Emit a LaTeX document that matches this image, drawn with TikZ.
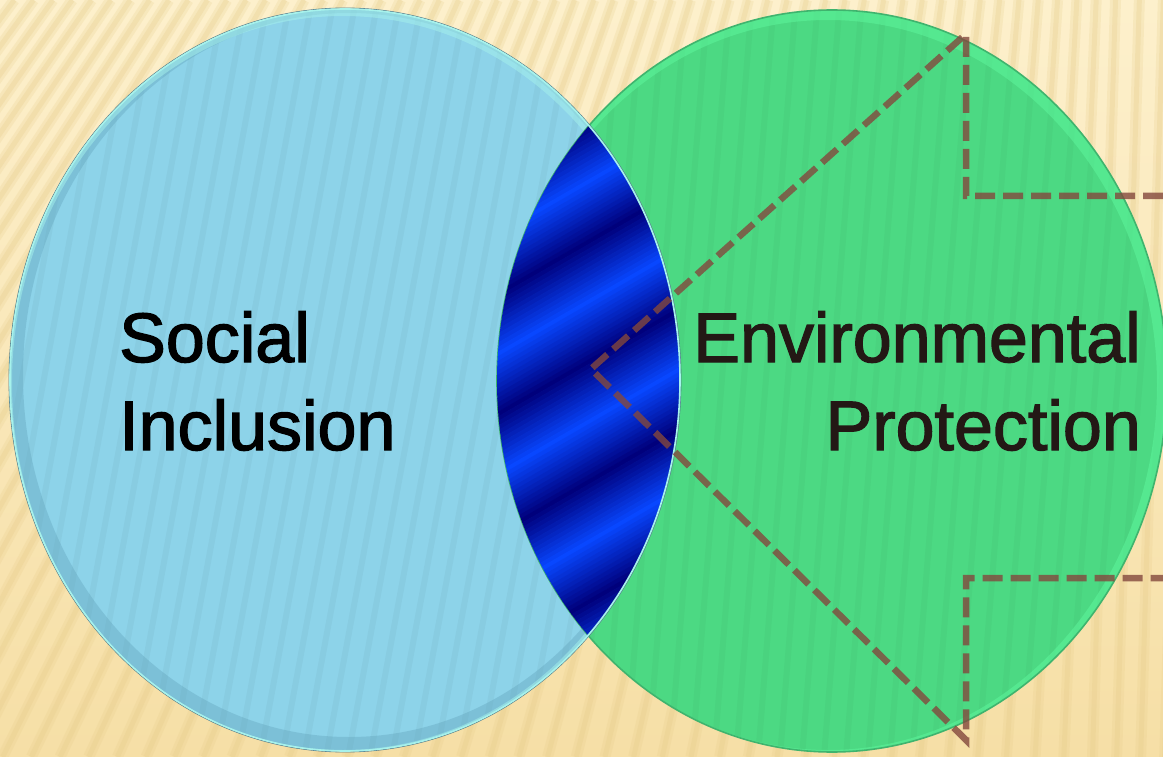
\documentclass[tikz,border=0pt]{standalone}
\usepackage{fontspec}
\setmainfont{Liberation Sans}
\newcommand{\heavytext}[1]{\special{pdf:literal direct 2 Tr 1.3 w}#1\special{pdf:literal direct 0 Tr 1 w}}
\begin{document}
\begin{tikzpicture}[x=1pt,y=-1pt]
\definecolor{bgtop}{HTML}{FDF0CC}
\definecolor{bgbot}{HTML}{F6DFA6}
\definecolor{stripe}{HTML}{E6CC8A}
\definecolor{socialfill}{HTML}{8DD3E9}
\definecolor{socialedge}{HTML}{A6F2EC}
\definecolor{socialshadow}{HTML}{5E9FB8}
\definecolor{envfill}{HTML}{4CD983}
\definecolor{envedge}{HTML}{3FB46E}
\definecolor{envglow}{HTML}{5EF79D}
\definecolor{lensdark}{HTML}{00007C}
\definecolor{lensbright}{HTML}{0847FF}
\definecolor{dashbrown}{HTML}{83483D}
\definecolor{envtext}{HTML}{231815}
\tikzset{
  label text/.style={font=\fontsize{70}{84}\selectfont, inner sep=0pt},
  guide/.style={draw=dashbrown, draw opacity=0.8, line width=6.5pt, dash pattern=on 20pt off 8pt, line join=miter},
  venn/.style={x radius=335, y radius=371},
}
\useasboundingbox (0,0) rectangle (1163,757);
% background
\shade[top color=bgtop, bottom color=bgbot] (0,0) rectangle (1163,757);
\begin{scope}
  \clip (0,0) rectangle (1163,757);
  \foreach \xm in {-264,-240,...,1200} {
    \pgfmathsetmacro{\k}{max(0.03, 0.6*(1-\xm/1163))}
    \draw[stripe, line width=11pt, opacity=0.22] (\xm+\k*378, 0) -- (\xm-\k*378, 757);
    \draw[stripe, line width=5pt, opacity=0.28] (\xm+\k*378, 0) -- (\xm-\k*378, 757);
  }
\end{scope}
% circles
\coordinate (cS) at (345,380);
\coordinate (cE) at (832,381);
\fill[socialfill] (cS) ellipse [venn];
\fill[envfill] (cE) ellipse [venn];
% faint texture and inner edge effects
\begin{scope}
  \clip (cS) ellipse [venn];
  \foreach \xm in {0,22,...,700} {
    \draw[black, line width=6pt, opacity=0.03] (\xm+70, 0) -- (\xm-70, 757);
  }
  \draw[socialshadow, line width=18pt, opacity=0.35] (349,375) ellipse [venn];
  \draw[socialedge, line width=8pt, opacity=0.5] (343,383) ellipse [venn];
\end{scope}
\begin{scope}
  \clip (cE) ellipse [venn];
  \foreach \xm in {480,502,...,1180} {
    \draw[black, line width=6pt, opacity=0.025] (\xm+30, 0) -- (\xm-30, 757);
  }
  \draw[envglow, line width=12pt, opacity=0.5] (828,385) ellipse [venn];
\end{scope}
\draw[envedge, line width=1.6pt] (cE) ellipse [venn];
% lens
\begin{scope}
  \clip (cS) ellipse [venn];
  \clip (cE) ellipse [venn];
  \begin{scope}[shift={(589,380)}, rotate=30]
    \foreach \i in {0,...,164} {
      \pgfmathtruncatemacro{\t}{mod(\i,26)}
      \pgfmathtruncatemacro{\m}{\t<=13 ? \t/13*100 : (26-\t)/13*100}
      \fill[lensbright!\m!lensdark] (-420,\i*4-330) rectangle (420,\i*4-325.5);
    }
  \end{scope}
\end{scope}
\draw[black!40!socialfill, line width=0.8pt] (cS) ellipse [x radius=336, y radius=372];
\draw[socialedge, line width=1.6pt] (cS) ellipse [venn];
% labels
\node[label text, anchor=base west, text=black] (social) at (119,362) {\heavytext{Social}};
\node[label text, anchor=base west, text=black] (inclusion) at (119,450) {\heavytext{Inclusion}};
\node[label text, anchor=base east, text=envtext] (environmental) at (1141,362) {\heavytext{Environmental}};
\node[label text, anchor=base east, text=envtext] (protection) at (1141,450) {\heavytext{Protection}};
% dashed guide
\coordinate (gTopEnd) at (1163,196);
\coordinate (gTopCorner) at (966,196);
\coordinate (gTopTip) at (966,34);
\coordinate (gApex) at (591,369);
\coordinate (gBotTip) at (966,740);
\coordinate (gBotCorner) at (966,578);
\coordinate (gBotEnd) at (1163,578);
\draw[guide] (gTopEnd) -- (gTopCorner) -- (gTopTip) -- (gApex) -- (gBotTip) -- (gBotCorner) -- (gBotEnd);
\end{tikzpicture}
\end{document}
